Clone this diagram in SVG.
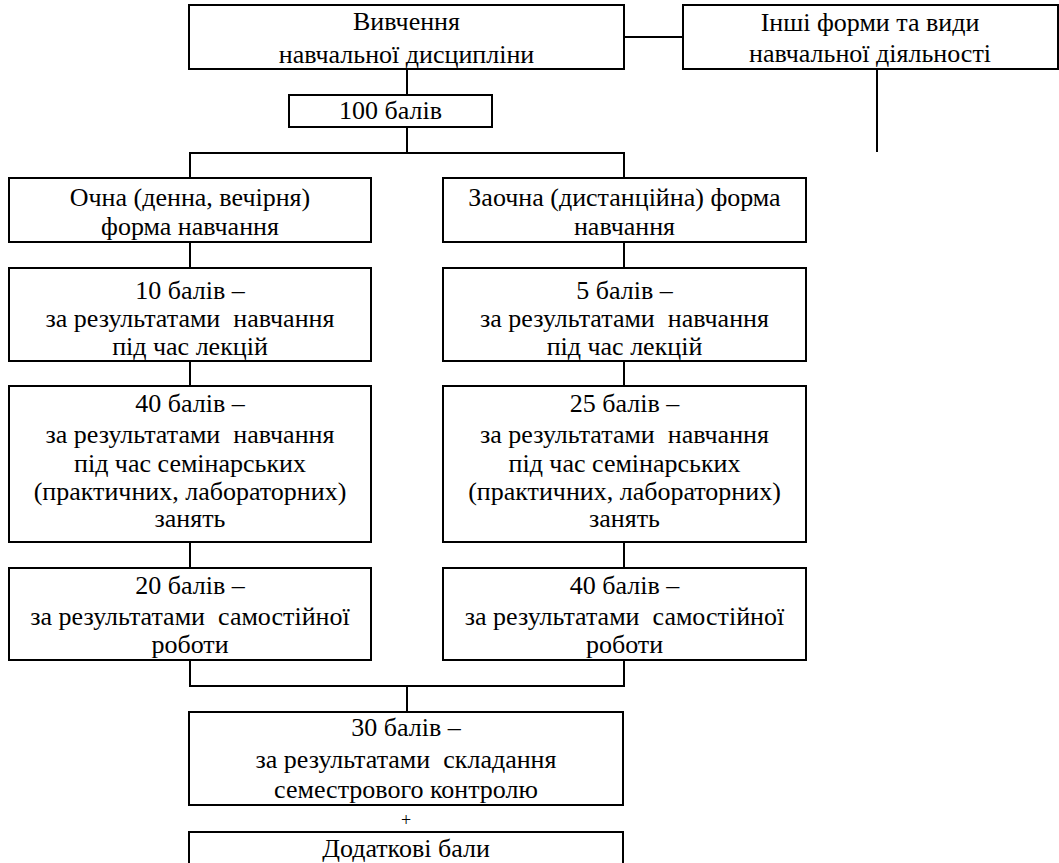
<svg xmlns="http://www.w3.org/2000/svg" width="1059" height="863" viewBox="0 0 1059 863">
<style>
.box{fill:#fff;stroke:#000;stroke-width:2}
.ln{fill:none;stroke:#000;stroke-width:2}
.t{font-family:"Liberation Serif","Times New Roman",Times,Tinos,"Noto Serif","DejaVu Serif",FreeSerif,"Nimbus Roman","Nimbus Roman No9 L",Georgia,serif;font-size:26px;fill:#000;text-anchor:middle}
.plus{font-size:18px}
</style>
<rect width="1059" height="863" fill="#fff"/>
<g id="connectors">
<path class="ln" d="M624 37H683"/>
<path class="ln" d="M877 69V152"/>
<path class="ln" d="M407 69V95"/>
<path class="ln" d="M407 127V153M190 178V153H624V178"/>
<path class="ln" d="M190 242V268M624 242V268"/>
<path class="ln" d="M190 361V386M624 361V386"/>
<path class="ln" d="M190 542V568M624 542V568"/>
<path class="ln" d="M190 660V686H624V660M407 686V712"/>
</g>
<g class="t">
<g id="n-study">
<rect class="box" x="189" y="5" width="435" height="64"/>
<text x="406.5" y="30">Вивчення</text>
<text x="406.5" y="63">навчальної дисципліни</text>
</g>
<g id="n-other">
<rect class="box" x="683" y="5" width="375" height="64"/>
<text x="870" y="31">Інші форми та види</text>
<text x="870" y="62">навчальної діяльності</text>
</g>
<g id="n-100">
<rect class="box" x="289" y="95" width="203" height="32"/>
<text x="390.5" y="119">100 балів</text>
</g>
<g id="n-full">
<rect class="box" x="9" y="178" width="362" height="64"/>
<text x="190" y="206">Очна (денна, вечірня)</text>
<text x="190" y="235">форма навчання</text>
</g>
<g id="n-distance">
<rect class="box" x="443" y="178" width="363" height="64"/>
<text x="624.5" y="206">Заочна (дистанційна) форма</text>
<text x="624.5" y="235">навчання</text>
</g>
<g id="n-full-lect">
<rect class="box" x="9" y="268" width="362" height="93"/>
<text x="190" y="299">10 балів –</text>
<text x="190" y="327" xml:space="preserve">за результатами  навчання</text>
<text x="190" y="355">під час лекцій</text>
</g>
<g id="n-dist-lect">
<rect class="box" x="443" y="268" width="363" height="93"/>
<text x="624.5" y="299">5 балів –</text>
<text x="624.5" y="327" xml:space="preserve">за результатами  навчання</text>
<text x="624.5" y="355">під час лекцій</text>
</g>
<g id="n-full-sem">
<rect class="box" x="9" y="386" width="362" height="156"/>
<text x="190" y="412">40 балів –</text>
<text x="190" y="443" xml:space="preserve">за результатами  навчання</text>
<text x="190" y="472">під час семінарських</text>
<text x="190" y="500">(практичних, лабораторних)</text>
<text x="190" y="527">занять</text>
</g>
<g id="n-dist-sem">
<rect class="box" x="443" y="386" width="363" height="156"/>
<text x="624.5" y="412">25 балів –</text>
<text x="624.5" y="443" xml:space="preserve">за результатами  навчання</text>
<text x="624.5" y="472">під час семінарських</text>
<text x="624.5" y="500">(практичних, лабораторних)</text>
<text x="624.5" y="527">занять</text>
</g>
<g id="n-full-self">
<rect class="box" x="9" y="568" width="362" height="92"/>
<text x="190" y="594">20 балів –</text>
<text x="190" y="625" xml:space="preserve">за результатами  самостійної</text>
<text x="190" y="653">роботи</text>
</g>
<g id="n-dist-self">
<rect class="box" x="443" y="568" width="363" height="92"/>
<text x="624.5" y="594">40 балів –</text>
<text x="624.5" y="625" xml:space="preserve">за результатами  самостійної</text>
<text x="624.5" y="653">роботи</text>
</g>
<g id="n-exam">
<rect class="box" x="189" y="712" width="434" height="93"/>
<text x="406" y="736">30 балів –</text>
<text x="406" y="768" xml:space="preserve">за результатами  складання</text>
<text x="406" y="798">семестрового контролю</text>
</g>
<text class="plus" x="406" y="826">+</text>
<g id="n-extra">
<rect class="box" x="189" y="832" width="434" height="50"/>
<text x="406" y="857">Додаткові бали</text>
</g>
</g>
</svg>
